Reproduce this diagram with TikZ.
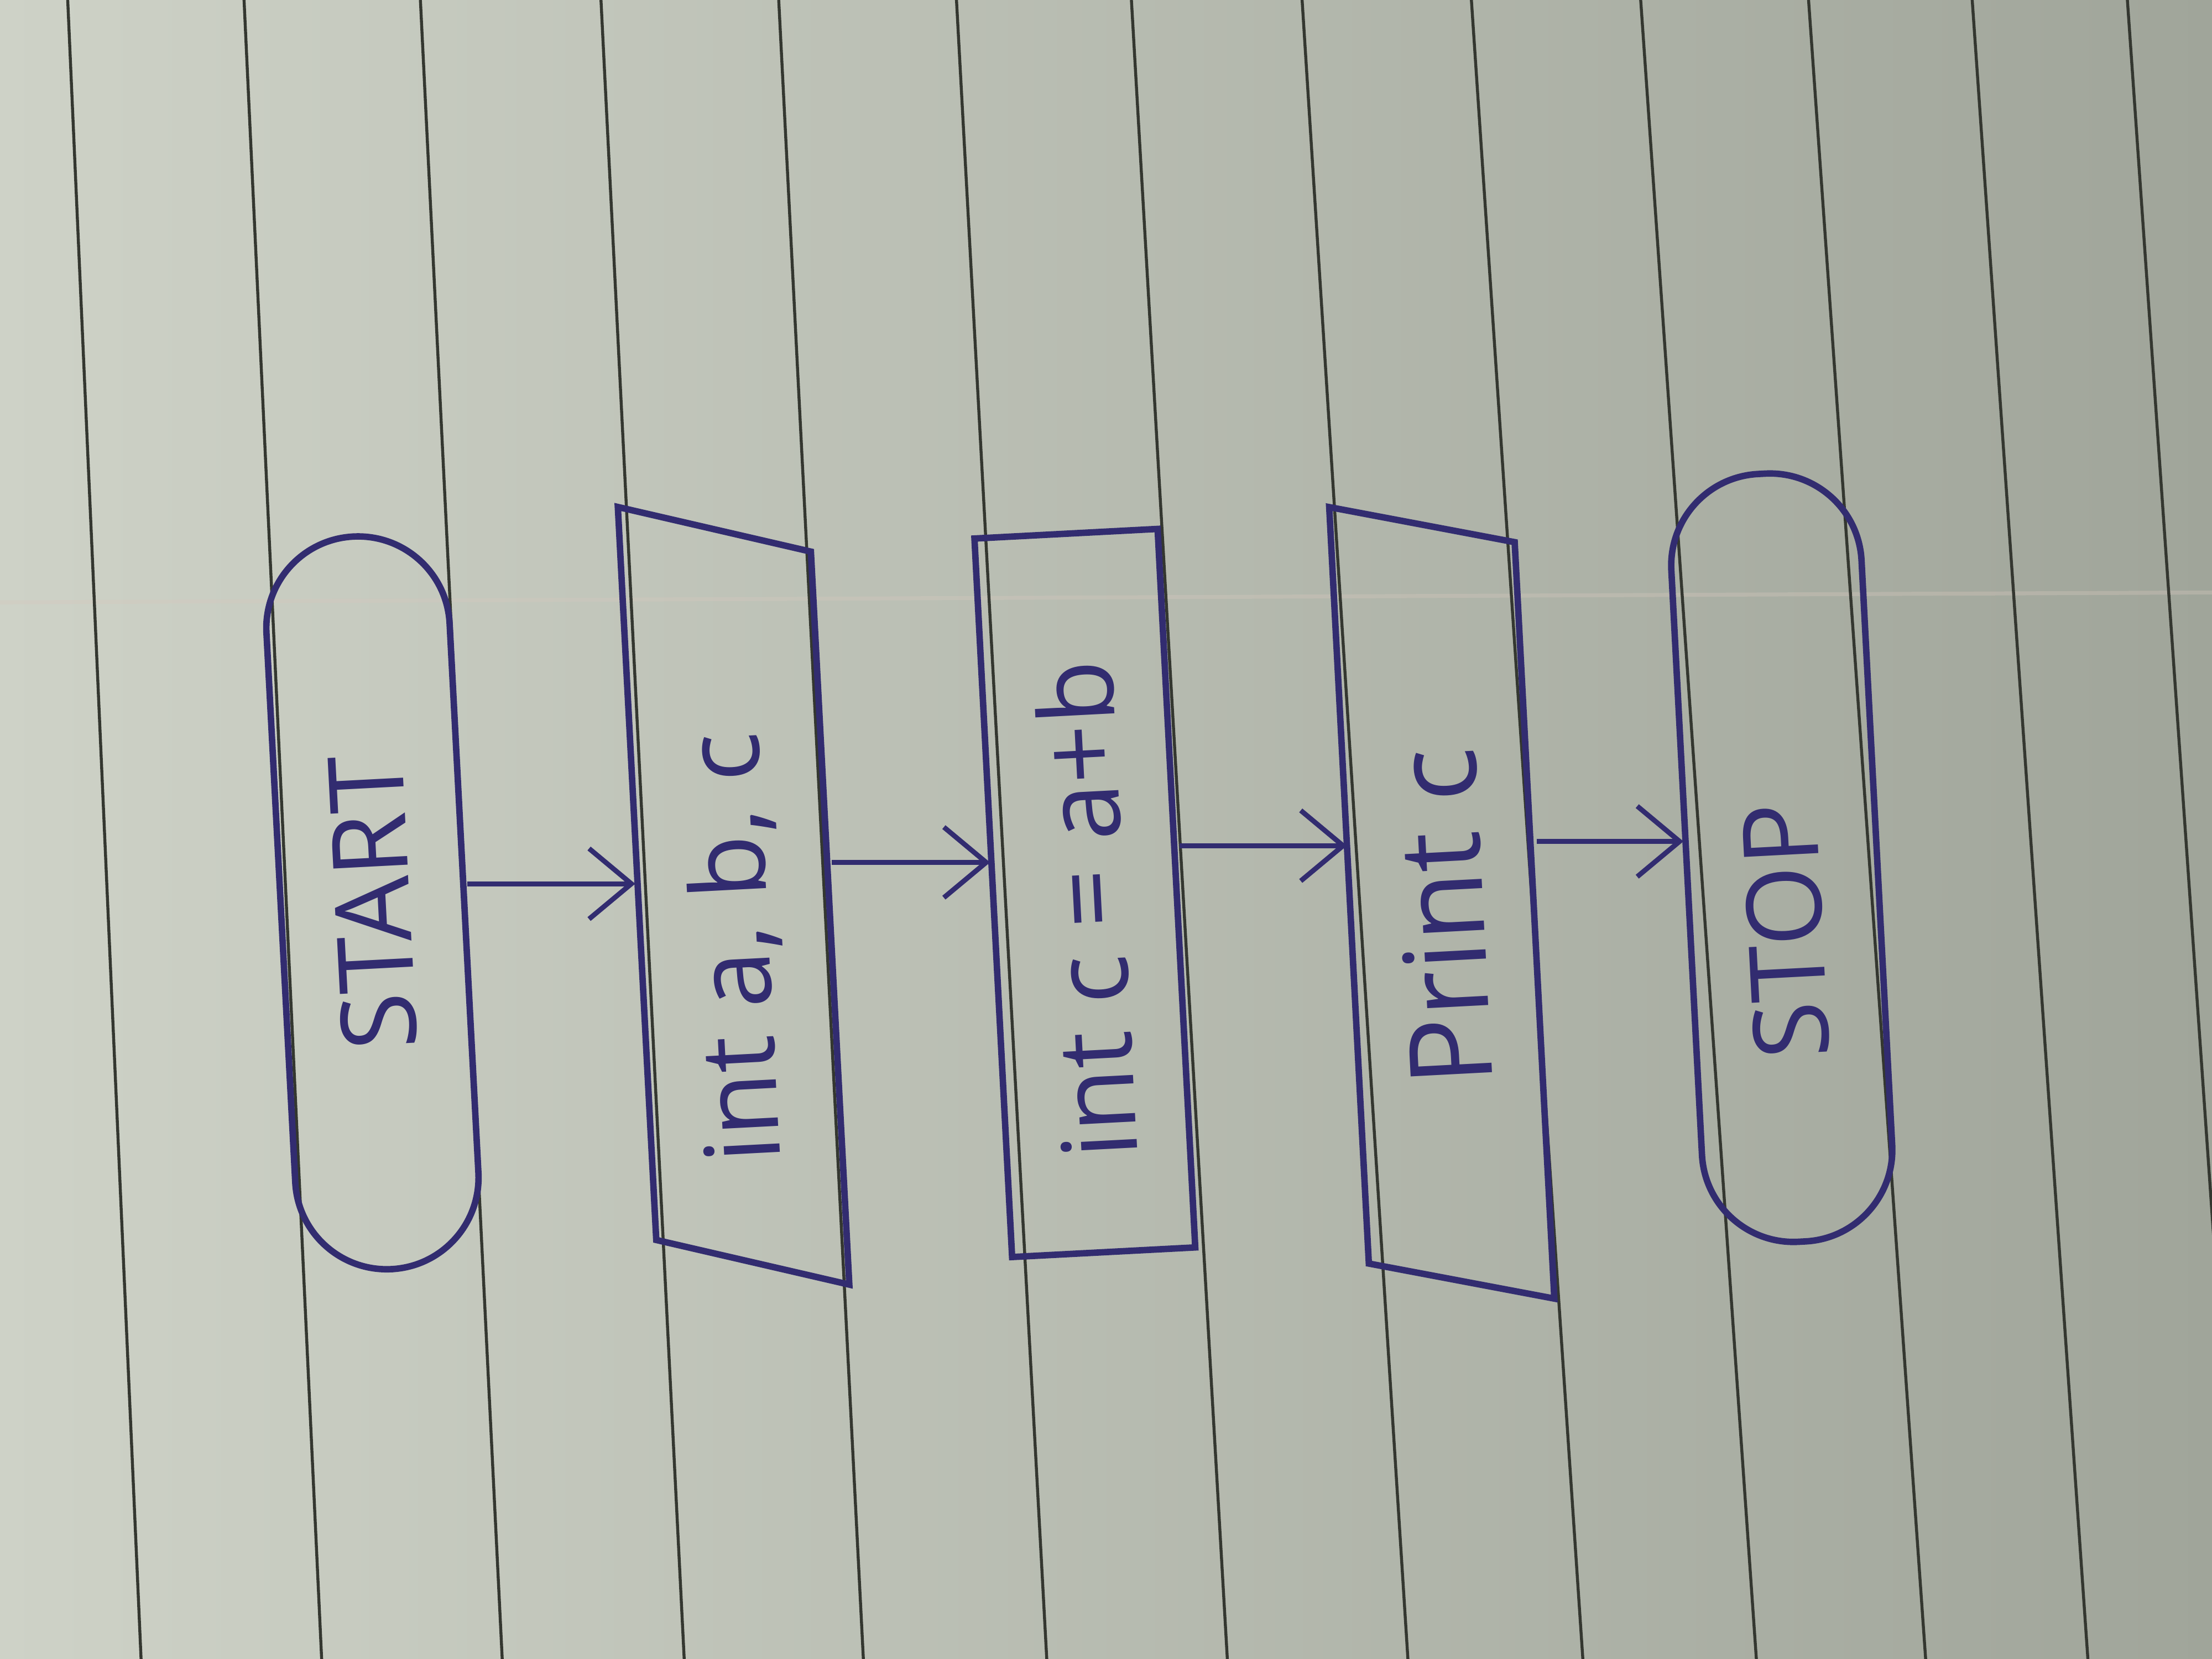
\documentclass[tikz,border=0pt]{standalone}
\usepackage{fontspec}
\setmainfont{Open Sans}
\usepackage{xcolor}
\usetikzlibrary{shapes.geometric, arrows.meta, positioning}

\definecolor{ink}{RGB}{50,44,112}
\definecolor{paperlight}{RGB}{206,210,199}
\definecolor{paperdark}{RGB}{160,165,154}
\definecolor{ruleline}{RGB}{52,55,48}
\definecolor{margin}{RGB}{214,200,190}

\begin{document}
\begin{tikzpicture}[every node/.style={font=\fontsize{21}{25}\selectfont, text=ink}]
\tikzstyle{startstop} = [rectangle, rounded corners=6.5mm, rotate=93, minimum width=5.2cm, minimum height=1.3cm, text centered, draw=ink, line width=1.3pt]
\tikzstyle{process} = [rectangle, rotate=93, minimum width=5.1cm, minimum height=1.3cm, text centered, draw=ink, line width=1.3pt]
\tikzstyle{io} = [trapezium, trapezium left angle=70, trapezium right angle=110, trapezium stretches=true, rotate=93, minimum width=5.6cm, minimum height=1.35cm, text centered, draw=ink, line width=1.3pt]
\tikzstyle{arrow} = [line width=1pt, draw=ink, ->, >={Straight Barb[length=3mm,width=5mm]}]

% ruled notebook page
\useasboundingbox (0,0) rectangle (15.68,-11.76);
\shade [left color=paperlight, right color=paperdark] (0,0) rectangle (15.68,-11.76);
\begin{scope}
\clip (0,0) rectangle (15.68,-11.76);
\draw [margin, opacity=0.35, line width=0.8pt] (0,-4.27) -- (15.68,-4.20);
\foreach \xt/\xb in {0.48/1.00, 1.73/2.28, 2.98/3.56, 4.26/4.85, 5.52/6.12, 6.78/7.42, 8.02/8.70, 9.23/9.98, 10.43/11.22, 11.63/12.45, 12.82/13.65, 13.98/14.80, 15.08/15.90}
  \draw [ruleline, line width=0.6pt] (\xt,0) -- (\xb,-11.76);
\end{scope}

% flowchart
\node (start) [startstop] at (2.64,-6.40) {START};
\node (input) [io] at (5.20,-6.35) {int a, b, c\hspace*{7.4mm}};
\node (sum) [process] at (7.69,-6.33) {int c = a+b\hspace*{2.4mm}};
\node (output) [io, trapezium left angle=78, trapezium right angle=102, minimum width=5.7cm, minimum height=1.3cm] at (10.22,-6.40) {\fontsize{23}{27}\selectfont Print c\hspace*{2mm}};
\node (stop) [startstop, minimum width=5.45cm, minimum height=1.35cm] at (12.63,-6.08) {STOP\hspace*{10.4mm}};

\draw [arrow] ([yshift=1mm]start.south) -- ([yshift=1mm]start.south -| input.north);
\draw [arrow] ([yshift=2mm]input.south) -- ([yshift=2mm]input.south -| sum.north);
\draw [arrow] ([yshift=3mm]sum.south) -- ([yshift=3mm]sum.south -| output.north);
\draw [arrow] ([yshift=4mm]output.south) -- ([yshift=4mm]output.south -| stop.north);

\end{tikzpicture}
\end{document}
